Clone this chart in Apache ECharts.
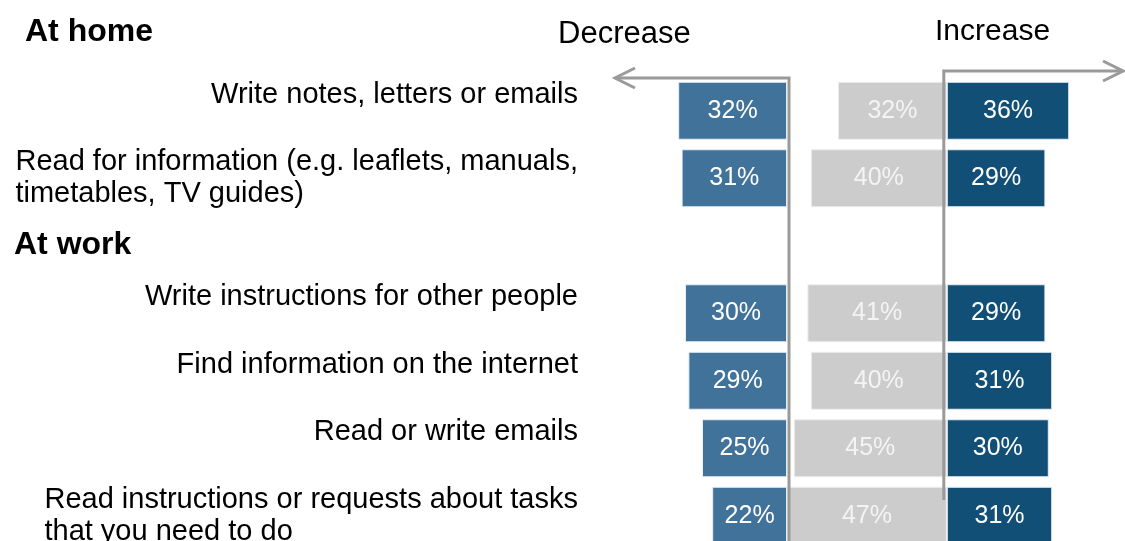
<!DOCTYPE html>
<html>
<head>
<meta charset="utf-8">
<script src="https://cdn.jsdelivr.net/npm/echarts@6/dist/echarts.min.js"></script>
<style>
  html, body { margin: 0; padding: 0; background: #fff; }
  #main { width: 1125px; height: 541px; }
</style>
</head>
<body>
<div id="main"></div>
<script>
var chart = echarts.init(document.getElementById('main'));

// rows top to bottom; the empty row holds the "At work" header
var categories = [
	'Write notes, letters or emails',
	'Read for information (e.g. leaflets, manuals,\ntimetables, TV guides)',
	'',
	'Write instructions for other people',
	'Find information on the internet',
	'Read or write emails',
	'Read instructions or requests about tasks\nthat you need to do'
];
var decrease = [32, 31, null, 30, 29, 25, 22];
var same = [32, 40, null, 41, 40, 45, 47];
var increase = [36, 29, null, 29, 31, 30, 31];

// grey bars are right-aligned on the largest "same" value
var sameMax = Math.max.apply(null, same.filter(function (v) { return v != null; }));
var spacer = same.map(function (v) { return v == null ? null : sameMax - v; });
var negDecrease = decrease.map(function (v) { return v == null ? null : -v; });

var lineColor = '#9a9a9a';

function pctLabel(color) {
	return {
		show: true,
		position: 'inside',
		color: color,
		fontSize: 25,
		fontFamily: 'Liberation Sans, Arial, sans-serif',
		formatter: function (p) { return Math.abs(p.value) + '%'; }
	};
}

var option = {
	animation: false,
	textStyle: { fontFamily: 'Liberation Sans, Arial, sans-serif' },
	title: [{
		text: 'At home', left: 25, top: 16, padding: 0,
		textStyle: { fontSize: 32, fontWeight: 'bold', color: '#000' }
	}, {
		text: 'At work', left: 14, top: 229, padding: 0,
		textStyle: { fontSize: 32, fontWeight: 'bold', color: '#000' }
	}, {
		text: 'Decrease', left: 558, top: 19, padding: 0,
		textStyle: { fontSize: 31, fontWeight: 'normal', color: '#000' }
	}, {
		text: 'Increase', left: 935, top: 17, padding: 0,
		textStyle: { fontSize: 30, fontWeight: 'normal', color: '#000' }
	}],
	grid: {
		left: 617, top: 77, width: 510, height: 472.5,
		containLabel: false, outerBoundsMode: 'none'
	},
	xAxis: {
		type: 'value', min: -50, max: 100, show: false
	},
	yAxis: {
		type: 'category',
		inverse: true,
		data: categories,
		axisLine: { show: false },
		axisTick: { show: false },
		axisLabel: {
			margin: 39,
			color: '#000',
			fontSize: 29,
			lineHeight: 32,
			formatter: function (v) {
				if (!v) return '';
				// single line labels sit above the bar centre in the original
				if (v.indexOf('\n') < 0) return v + '\n';
				// wrapped labels keep their lines left-aligned
				return v.split('\n').map(function (s) { return '{l|' + s + '}'; }).join('\n');
			},
			rich: {
				l: { align: 'left', fontSize: 29, lineHeight: 32, color: '#000' }
			}
		}
	},
	series: [{
		name: 'Decrease', type: 'bar', stack: 'row', barWidth: 58,
		data: negDecrease,
		itemStyle: { color: '#41729a', borderColor: '#e8eef3', borderWidth: 1 },
		label: pctLabel('#fff')
	}, {
		name: 'spacer', type: 'bar', stack: 'row', barWidth: 58,
		data: spacer, silent: true,
		itemStyle: { color: 'rgba(0,0,0,0)' }
	}, {
		name: 'Same', type: 'bar', stack: 'row', barWidth: 58,
		data: same,
		itemStyle: { color: '#cccccc', borderColor: '#eeeeee', borderWidth: 1 },
		label: pctLabel('#f4f4f4')
	}, {
		name: 'Increase', type: 'bar', stack: 'row', barWidth: 58,
		data: increase,
		itemStyle: { color: '#124f77', borderColor: '#e8eef3', borderWidth: 1 },
		label: pctLabel('#fff')
	}]
};

chart.setOption(option);

// arrows framing the decrease / increase sides
var x0 = chart.convertToPixel({ xAxisIndex: 0 }, 0) + 2;
var x1 = chart.convertToPixel({ xAxisIndex: 0 }, sameMax) - 3;
var yL = 78, yR = 71;
chart.setOption({
	graphic: [{
		type: 'polyline', shape: { points: [[x0, 541], [x0, yL], [615, yL]] },
		style: { stroke: lineColor, lineWidth: 3, fill: null }, z: 10
	}, {
		type: 'polyline', shape: { points: [[635, yL - 10], [615, yL], [635, yL + 10]] },
		style: { stroke: lineColor, lineWidth: 3, fill: null }, z: 10
	}, {
		type: 'polyline', shape: { points: [[x1, 500], [x1, yR], [1123, yR]] },
		style: { stroke: lineColor, lineWidth: 3, fill: null }, z: 10
	}, {
		type: 'polyline', shape: { points: [[1103, yR - 10], [1123, yR], [1103, yR + 10]] },
		style: { stroke: lineColor, lineWidth: 3, fill: null }, z: 10
	}]
});
</script>
</body>
</html>
